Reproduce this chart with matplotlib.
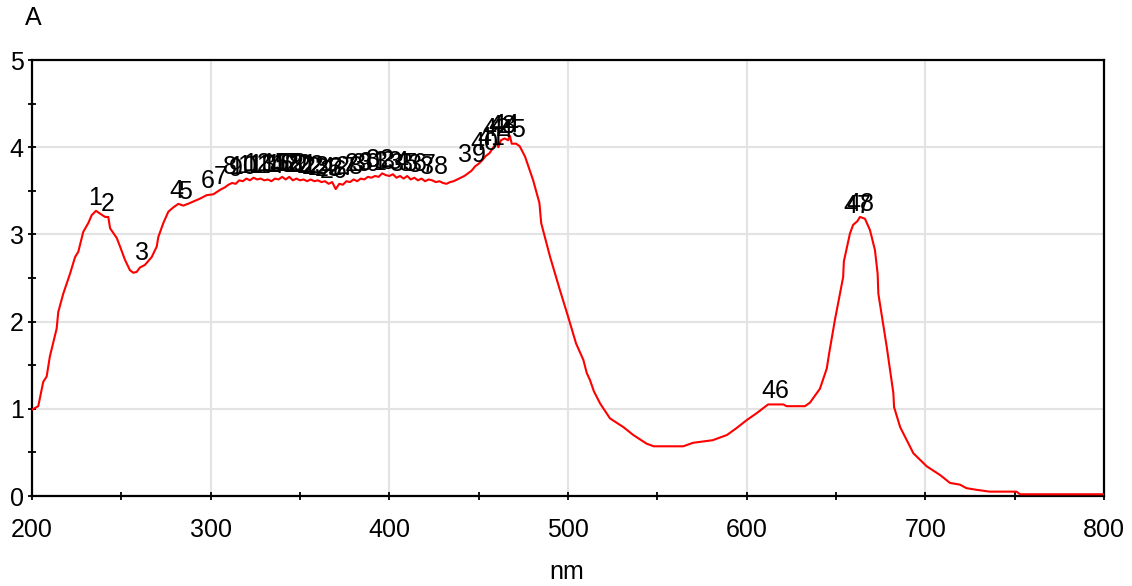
import matplotlib
matplotlib.use("Agg")
import matplotlib.pyplot as plt
from matplotlib.ticker import MultipleLocator

plt.rcParams['font.family'] = ['Liberation Sans', 'DejaVu Sans']

# absorption spectrum (wavelength in nm, absorbance)
wavelength = [
    200, 203.5, 206.3, 208.2, 210, 213.8, 214.7, 217.5, 221.3, 224.1, 225.9,
    228.7, 231.5, 233.4, 235.8, 238, 240.9, 242.7, 243.7, 247.4, 249.3, 252,
    254.8, 256.7, 258.6, 260.4, 263.2, 267, 269.8, 270.7, 273.5, 276.3, 279.1,
    281.9, 284.7, 288.4, 294, 297.8, 301.5, 305.2,
    308, 310, 312, 314, 316, 318, 320, 322, 324, 326, 328, 330, 332, 334, 336,
    338, 340, 342, 344, 346, 348, 350, 352, 354, 356, 358, 360, 362, 364, 366,
    368, 370, 372, 374, 376, 378, 380, 382, 384, 386, 388, 390, 392, 394, 396,
    398, 400, 402, 404, 406, 408, 410, 412, 414, 416, 418, 420, 422, 424, 426,
    428, 430, 432, 434, 436, 438, 440, 442, 444, 446, 448, 450, 452, 454, 456,
    458, 460, 461, 462.5, 464.5, 466.5, 467.5, 468.5, 471, 473, 476, 477,
    480.5, 484, 485, 490, 495.5, 500, 504.5, 508.6, 510.5, 512.3, 514.5, 518,
    523.5, 531, 536.5, 544, 548, 564.5, 570, 581, 589, 594.4, 600, 605.6, 612,
    620.5, 622.4, 632.6, 635.4, 641, 644.8, 646.2, 649.4, 654, 654.4, 657.8,
    659.6, 661.9, 663.4, 666.2, 669, 671.8, 673.3, 673.7, 678.4, 682.1, 682.5,
    685.9, 693.3, 700.8, 708.3, 713.8, 719.4, 723, 729, 736, 751, 753, 800,
]
absorbance = [
    0.99, 1.03, 1.31, 1.37, 1.60, 1.92, 2.11, 2.32, 2.55, 2.74, 2.80,
    3.03, 3.13, 3.22, 3.27, 3.24, 3.20, 3.20, 3.07, 2.96, 2.86, 2.71,
    2.59, 2.56, 2.57, 2.62, 2.65, 2.74, 2.86, 2.97, 3.13, 3.26, 3.31,
    3.35, 3.33, 3.36, 3.41, 3.45, 3.46, 3.51,
    3.54, 3.57, 3.59, 3.58, 3.62, 3.61, 3.64, 3.62, 3.65, 3.63, 3.64, 3.62, 3.63, 3.61, 3.64,
    3.63, 3.66, 3.63, 3.66, 3.62, 3.64, 3.62, 3.63, 3.61, 3.63, 3.61, 3.62, 3.60, 3.61, 3.58,
    3.60, 3.52, 3.58, 3.57, 3.61, 3.60, 3.63, 3.61, 3.64, 3.63, 3.66, 3.65, 3.67, 3.66, 3.70,
    3.68, 3.67, 3.69, 3.65, 3.67, 3.64, 3.67, 3.63, 3.65, 3.62, 3.64, 3.61, 3.63, 3.62, 3.60,
    3.61, 3.59, 3.58, 3.60, 3.61, 3.63, 3.65, 3.67, 3.70, 3.73, 3.78, 3.81, 3.85, 3.90, 3.93,
    3.99, 4.06, 4.00, 4.08, 4.10, 4.08, 4.13, 4.04, 4.04, 4.01, 3.89, 3.83,
    3.62, 3.36, 3.13, 2.74, 2.36, 2.06, 1.75, 1.56, 1.41, 1.33, 1.20, 1.06,
    0.89, 0.79, 0.70, 0.60, 0.57, 0.57, 0.61, 0.64, 0.70, 0.78, 0.87, 0.95, 1.05,
    1.05, 1.03, 1.03, 1.07, 1.23, 1.46, 1.64, 2.02, 2.51, 2.69, 3.01,
    3.11, 3.15, 3.20, 3.18, 3.05, 2.82, 2.55, 2.32, 1.71, 1.18, 1.02,
    0.79, 0.49, 0.34, 0.24, 0.15, 0.13, 0.09, 0.07, 0.05, 0.05, 0.02, 0.02,
]

# picked peaks, numbered 1..48
peak_nm = [
    235.5, 242.5, 261.5, 281.0, 285.5, 298.5, 305.5, 310.5, 314, 318,
    322, 326, 329, 333, 336, 339, 342, 344, 346, 349,
    352, 356, 359, 362, 366, 369, 374, 378, 383, 387,
    391, 395, 399, 403, 408, 413, 418, 425, 446.5, 453,
    457, 460, 463, 465, 469, 616, 662, 663.5,
]
peak_abs = [
    3.27, 3.20, 2.63, 3.35, 3.33, 3.46, 3.51, 3.62, 3.60, 3.62,
    3.63, 3.65, 3.64, 3.63, 3.65, 3.64, 3.66, 3.66, 3.65, 3.64,
    3.64, 3.63, 3.62, 3.61, 3.60, 3.58, 3.61, 3.62, 3.65, 3.66,
    3.67, 3.70, 3.68, 3.68, 3.66, 3.65, 3.64, 3.62, 3.76, 3.90,
    3.95, 4.06, 4.09, 4.10, 4.05, 1.05, 3.17, 3.20,
]

fig = plt.figure(figsize=(11.32, 5.86), dpi=100)
ax = fig.add_axes([32 / 1132, 90 / 586, 1072 / 1132, 436 / 586])

ax.plot(wavelength, absorbance, color='#ff0000', lw=1.5, zorder=3)

for i, (x, y) in enumerate(zip(peak_nm, peak_abs), start=1):
    ax.annotate(str(i), (x, y), xytext=(0, 4.5), textcoords='offset points',
                ha='center', va='baseline', fontsize=18, color='black', zorder=4)

ax.set_xlim(200, 800)
ax.set_ylim(0, 5)
ax.xaxis.set_major_locator(MultipleLocator(100))
ax.xaxis.set_minor_locator(MultipleLocator(50))
ax.yaxis.set_major_locator(MultipleLocator(1))
ax.yaxis.set_minor_locator(MultipleLocator(0.5))
ax.grid(True, which='major', color='#e3e3e3', lw=1.5, zorder=0)
ax.set_axisbelow(True)

ax.tick_params(which='both', direction='inout', length=6, width=1.3,
               colors='black', labelsize=18)
ax.tick_params(axis='x', which='major', pad=13)
ax.tick_params(axis='y', which='major', pad=3)
for s in ax.spines.values():
    s.set_linewidth(1.6)
    s.set_color('black')

fig.text(33 / 1132, 1 - 18 / 586, 'A', ha='center', va='center', fontsize=18)
fig.text(567 / 1132, 1 - 572 / 586, 'nm', ha='center', va='center', fontsize=18)

fig.savefig('out.png', dpi=100)
